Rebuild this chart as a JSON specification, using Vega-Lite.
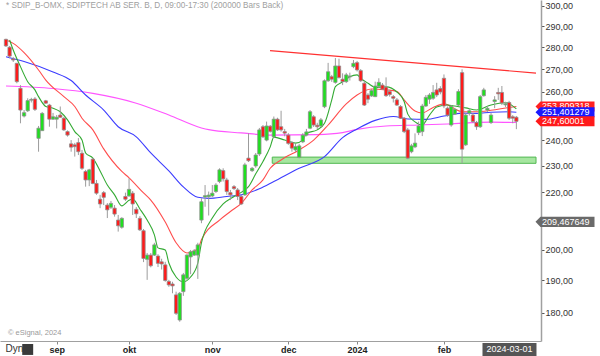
{
"$schema": "https://vega.github.io/schema/vega-lite/v6.json",
"width": 541, "height": 341,
"autosize": {"type": "none"},
"padding": {"left": 0, "top": 0, "right": 59, "bottom": 15},
"background": "white",
"config": {"view": {"stroke": null}, "font": "Liberation Sans"},
"datasets": {
"candles": [
{"i":0,"o":283.8,"h":284.1,"l":280.2,"c":280.7},{"i":1,"o":280.1,"h":280.7,"l":275.0,"c":276.0},{"i":2,"o":274.7,"h":275.6,"l":273.3,"c":274.2},{"i":3,"o":272.7,"h":272.9,"l":263.8,"c":264.5},{"i":4,"o":261.6,"h":263.0,"l":246.8,"c":252.3},{"i":5,"o":249.8,"h":252.3,"l":249.2,"c":251.2},{"i":6,"o":252.0,"h":257.3,"l":251.5,"c":256.3},{"i":7,"o":256.5,"h":257.5,"l":255.5,"c":256.8},{"i":8,"o":257.0,"h":257.8,"l":251.9,"c":252.6},{"i":9,"o":240.7,"h":245.7,"l":235.4,"c":244.8},
{"i":10,"o":243.8,"h":251.5,"l":243.7,"c":250.9},{"i":11,"o":256.2,"h":256.6,"l":254.9,"c":255.2},{"i":12,"o":254.4,"h":254.9,"l":245.4,"c":248.5},{"i":13,"o":248.5,"h":251.1,"l":248.2,"c":249.5},{"i":14,"o":248.5,"h":250.2,"l":244.7,"c":249.3},{"i":15,"o":250.2,"h":253.8,"l":249.0,"c":249.3},{"i":16,"o":248.9,"h":249.5,"l":243.7,"c":244.1},{"i":17,"o":243.4,"h":243.9,"l":241.4,"c":242.0},{"i":18,"o":238.5,"h":240.0,"l":235.4,"c":237.2},{"i":19,"o":238.1,"h":238.9,"l":233.5,"c":237.4},
{"i":20,"o":239.0,"h":240.8,"l":234.1,"c":235.4},{"i":21,"o":234.8,"h":236.1,"l":228.4,"c":229.0},{"i":22,"o":227.8,"h":228.4,"l":222.1,"c":224.6},{"i":23,"o":224.6,"h":228.8,"l":222.3,"c":228.4},{"i":24,"o":232.5,"h":233.0,"l":223.0,"c":223.3},{"i":25,"o":223.3,"h":224.6,"l":219.1,"c":219.7},{"i":26,"o":217.5,"h":219.1,"l":214.3,"c":215.8},{"i":27,"o":219.9,"h":220.5,"l":215.4,"c":218.2},{"i":28,"o":215.4,"h":216.1,"l":210.8,"c":213.7},{"i":29,"o":214.6,"h":216.9,"l":214.0,"c":216.0},
{"i":30,"o":214.3,"h":215.4,"l":211.3,"c":212.2},{"i":31,"o":210.1,"h":211.9,"l":206.1,"c":208.1},{"i":32,"o":207.6,"h":211.1,"l":207.1,"c":210.7},{"i":33,"o":218.5,"h":219.9,"l":216.9,"c":217.5},{"i":34,"o":218.7,"h":225.2,"l":218.4,"c":221.1},{"i":35,"o":219.7,"h":220.5,"l":211.9,"c":215.8},{"i":36,"o":213.9,"h":214.7,"l":210.8,"c":212.3},{"i":37,"o":210.7,"h":211.5,"l":206.3,"c":206.7},{"i":38,"o":206.4,"h":207.0,"l":195.9,"c":197.1},{"i":39,"o":196.8,"h":198.9,"l":190.2,"c":198.2},
{"i":40,"o":198.2,"h":198.9,"l":194.2,"c":194.7},{"i":41,"o":198.2,"h":202.3,"l":197.9,"c":201.6},{"i":42,"o":197.9,"h":198.5,"l":194.3,"c":195.5},{"i":43,"o":196.0,"h":197.0,"l":193.5,"c":195.3},{"i":44,"o":195.0,"h":196.0,"l":189.6,"c":190.0},{"i":45,"o":189.7,"h":190.2,"l":188.0,"c":188.6},{"i":46,"o":188.9,"h":189.6,"l":186.0,"c":188.3},{"i":47,"o":185.5,"h":186.5,"l":179.4,"c":179.9},{"i":48,"o":177.9,"h":186.4,"l":177.4,"c":186.0},{"i":49,"o":186.5,"h":192.4,"l":185.2,"c":191.8},
{"i":50,"o":190.7,"h":198.5,"l":190.2,"c":198.2},{"i":51,"o":197.6,"h":199.9,"l":192.0,"c":199.3},{"i":52,"o":198.2,"h":200.2,"l":197.9,"c":199.6},{"i":53,"o":198.2,"h":202.3,"l":190.5,"c":201.6},{"i":54,"o":210.1,"h":217.9,"l":209.0,"c":216.6},{"i":55,"o":218.3,"h":222.7,"l":214.8,"c":218.8},{"i":56,"o":218.4,"h":220.3,"l":211.7,"c":219.0},{"i":57,"o":218.7,"h":222.7,"l":218.3,"c":219.7},{"i":58,"o":220.3,"h":223.4,"l":219.8,"c":222.7},{"i":59,"o":224.0,"h":229.0,"l":223.4,"c":228.4},
{"i":60,"o":228.1,"h":229.0,"l":224.0,"c":225.0},{"i":61,"o":224.6,"h":225.4,"l":219.1,"c":220.3},{"i":62,"o":219.9,"h":220.9,"l":217.2,"c":219.1},{"i":63,"o":222.1,"h":222.7,"l":220.9,"c":221.4},{"i":64,"o":220.9,"h":221.6,"l":217.2,"c":218.5},{"i":65,"o":218.5,"h":219.1,"l":215.4,"c":215.8},{"i":66,"o":219.1,"h":231.1,"l":218.7,"c":230.3},{"i":67,"o":232.9,"h":242.7,"l":231.4,"c":231.9},{"i":68,"o":228.1,"h":229.5,"l":227.6,"c":229.0},{"i":69,"o":229.9,"h":234.9,"l":229.2,"c":234.1},
{"i":70,"o":234.5,"h":244.9,"l":233.7,"c":244.1},{"i":71,"o":245.4,"h":246.1,"l":240.8,"c":241.3},{"i":72,"o":240.0,"h":247.5,"l":239.5,"c":245.7},{"i":73,"o":245.6,"h":246.1,"l":243.0,"c":243.5},{"i":74,"o":241.3,"h":249.6,"l":240.8,"c":248.5},{"i":75,"o":248.5,"h":249.1,"l":243.7,"c":244.1},{"i":76,"o":245.4,"h":252.0,"l":243.4,"c":244.1},{"i":77,"o":243.4,"h":244.5,"l":241.5,"c":242.8},{"i":78,"o":242.0,"h":242.8,"l":238.1,"c":238.7},{"i":79,"o":239.0,"h":239.6,"l":235.4,"c":236.8},
{"i":80,"o":236.1,"h":238.5,"l":235.3,"c":237.4},{"i":81,"o":233.2,"h":238.5,"l":232.8,"c":237.7},{"i":82,"o":239.3,"h":242.8,"l":238.8,"c":242.0},{"i":83,"o":242.0,"h":244.5,"l":241.5,"c":243.3},{"i":84,"o":244.8,"h":252.3,"l":244.4,"c":251.6},{"i":85,"o":249.5,"h":250.2,"l":245.3,"c":246.1},{"i":86,"o":246.0,"h":247.0,"l":244.5,"c":245.4},{"i":87,"o":245.7,"h":249.0,"l":245.3,"c":248.2},{"i":88,"o":253.7,"h":265.5,"l":253.1,"c":264.9},{"i":89,"o":264.9,"h":272.9,"l":264.4,"c":268.9},
{"i":90,"o":266.7,"h":267.5,"l":264.4,"c":265.6},{"i":91,"o":264.2,"h":275.1,"l":263.6,"c":271.5},{"i":92,"o":271.5,"h":274.8,"l":265.9,"c":266.3},{"i":93,"o":265.6,"h":268.2,"l":263.0,"c":264.5},{"i":94,"o":264.5,"h":268.4,"l":263.9,"c":267.5},{"i":95,"o":266.6,"h":268.5,"l":265.0,"c":267.0},{"i":96,"o":271.2,"h":274.2,"l":270.5,"c":272.7},{"i":97,"o":273.0,"h":273.8,"l":269.0,"c":269.7},{"i":98,"o":269.4,"h":270.1,"l":264.4,"c":264.9},{"i":99,"o":263.8,"h":264.9,"l":254.0,"c":254.4},
{"i":100,"o":258.7,"h":259.5,"l":255.2,"c":256.9},{"i":101,"o":258.3,"h":261.3,"l":257.9,"c":260.6},{"i":102,"o":258.0,"h":264.5,"l":257.8,"c":262.6},{"i":103,"o":262.5,"h":266.0,"l":261.9,"c":264.2},{"i":104,"o":263.0,"h":263.9,"l":260.9,"c":261.2},{"i":105,"o":262.1,"h":266.4,"l":257.9,"c":258.4},{"i":106,"o":260.2,"h":261.0,"l":258.0,"c":258.9},{"i":107,"o":258.0,"h":258.7,"l":255.5,"c":257.3},{"i":108,"o":256.6,"h":257.4,"l":254.0,"c":254.4},{"i":109,"o":253.8,"h":254.4,"l":248.6,"c":248.9},
{"i":110,"o":248.9,"h":249.4,"l":242.8,"c":243.4},{"i":111,"o":244.1,"h":244.9,"l":232.5,"c":232.9},{"i":112,"o":235.4,"h":238.5,"l":234.8,"c":237.7},{"i":113,"o":237.3,"h":242.7,"l":236.8,"c":238.8},{"i":114,"o":243.0,"h":247.5,"l":242.0,"c":245.7},{"i":115,"o":243.4,"h":254.9,"l":241.6,"c":254.0},{"i":116,"o":254.0,"h":258.7,"l":253.6,"c":257.7},{"i":117,"o":256.9,"h":259.5,"l":254.9,"c":258.7},{"i":118,"o":257.3,"h":263.0,"l":256.6,"c":259.8},{"i":119,"o":260.9,"h":264.0,"l":257.8,"c":258.7},
{"i":120,"o":261.5,"h":262.5,"l":259.0,"c":260.0},{"i":121,"o":266.0,"h":267.7,"l":253.1,"c":254.0},{"i":122,"o":253.1,"h":253.8,"l":249.5,"c":250.2},{"i":123,"o":246.1,"h":254.4,"l":245.4,"c":253.8},{"i":124,"o":250.6,"h":253.2,"l":250.2,"c":252.6},{"i":125,"o":254.4,"h":261.2,"l":254.0,"c":260.2},{"i":126,"o":268.5,"h":270.0,"l":230.9,"c":236.4},{"i":127,"o":238.1,"h":251.1,"l":237.7,"c":250.2},{"i":128,"o":251.0,"h":253.0,"l":250.0,"c":252.0},{"i":129,"o":250.2,"h":251.1,"l":246.9,"c":247.5},
{"i":130,"o":247.1,"h":247.8,"l":244.1,"c":245.4},{"i":131,"o":245.4,"h":258.7,"l":244.9,"c":258.0},{"i":132,"o":258.4,"h":261.8,"l":258.0,"c":260.9},{"i":133,"o":252.3,"h":254.0,"l":251.5,"c":253.0},{"i":134,"o":247.1,"h":251.1,"l":246.5,"c":250.2},{"i":135,"o":255.9,"h":258.2,"l":253.1,"c":256.6},{"i":136,"o":259.8,"h":261.8,"l":256.6,"c":259.2},{"i":137,"o":259.8,"h":262.6,"l":254.4,"c":255.3},{"i":138,"o":254.5,"h":255.8,"l":253.6,"c":254.9},{"i":139,"o":255.5,"h":256.2,"l":248.2,"c":248.9},
{"i":140,"o":249.5,"h":250.2,"l":246.8,"c":248.9},{"i":141,"o":249.3,"h":249.8,"l":244.4,"c":247.6}
],
"ma": [
{"s":"m200","i":0,"v":262.6},{"s":"m200","i":13,"v":261.5},{"s":"m200","i":24,"v":259.4},{"s":"m200","i":36,"v":255.2},{"s":"m200","i":45,"v":250.2},{"s":"m200","i":54,"v":244.9},{"s":"m200","i":56,"v":244.2},{"s":"m200","i":65,"v":242.9},{"s":"m200","i":73,"v":242.0},{"s":"m200","i":86,"v":242.2},{"s":"m200","i":93,"v":243.0},{"s":"m200","i":97,"v":244.3},{"s":"m200","i":105,"v":245.7},{"s":"m200","i":114,"v":246.1},{"s":"m200","i":122,"v":246.5},{"s":"m200","i":134,"v":247.3},{"s":"m200","i":141,"v":247.1},
{"s":"m50","i":0,"v":275.7},{"s":"m50","i":5,"v":273.5},{"s":"m50","i":13,"v":268.8},{"s":"m50","i":18,"v":265.0},{"s":"m50","i":22,"v":258.7},{"s":"m50","i":27,"v":252.3},{"s":"m50","i":31,"v":245.4},{"s":"m50","i":36,"v":241.3},{"s":"m50","i":40,"v":234.9},{"s":"m50","i":45,"v":228.0},{"s":"m50","i":49,"v":222.0},{"s":"m50","i":53,"v":218.2},{"s":"m50","i":56,"v":217.8},{"s":"m50","i":61,"v":218.5},{"s":"m50","i":65,"v":219.1},{"s":"m50","i":70,"v":221.3},{"s":"m50","i":74,"v":224.0},{"s":"m50","i":81,"v":229.0},{"s":"m50","i":88,"v":233.5},{"s":"m50","i":93,"v":241.0},{"s":"m50","i":97,"v":244.5},{"s":"m50","i":102,"v":248.0},{"s":"m50","i":107,"v":249.6},{"s":"m50","i":111,"v":248.6},{"s":"m50","i":116,"v":248.4},{"s":"m50","i":121,"v":249.8},{"s":"m50","i":126,"v":251.0},{"s":"m50","i":130,"v":250.9},{"s":"m50","i":134,"v":251.4},{"s":"m50","i":139,"v":251.6},{"s":"m50","i":141,"v":251.4},
{"s":"m20","i":0,"v":283.5},{"s":"m20","i":2,"v":281.9},{"s":"m20","i":5,"v":277.6},{"s":"m20","i":9,"v":269.7},{"s":"m20","i":11,"v":265.2},{"s":"m20","i":16,"v":258.0},{"s":"m20","i":19,"v":253.8},{"s":"m20","i":21,"v":248.9},{"s":"m20","i":24,"v":244.1},{"s":"m20","i":27,"v":236.5},{"s":"m20","i":32,"v":227.8},{"s":"m20","i":34,"v":225.4},{"s":"m20","i":38,"v":219.8},{"s":"m20","i":40,"v":217.2},{"s":"m20","i":44,"v":209.4},{"s":"m20","i":47,"v":202.3},{"s":"m20","i":50,"v":198.9},{"s":"m20","i":53,"v":200.3},{"s":"m20","i":54,"v":203.3},{"s":"m20","i":59,"v":210.1},{"s":"m20","i":62,"v":213.1},{"s":"m20","i":65,"v":216.0},{"s":"m20","i":68,"v":220.9},{"s":"m20","i":71,"v":224.6},{"s":"m20","i":73,"v":229.0},{"s":"m20","i":76,"v":232.2},{"s":"m20","i":81,"v":236.1},{"s":"m20","i":85,"v":240.0},{"s":"m20","i":89,"v":246.1},{"s":"m20","i":94,"v":254.9},{"s":"m20","i":97,"v":258.7},{"s":"m20","i":101,"v":261.3},{"s":"m20","i":105,"v":260.9},{"s":"m20","i":108,"v":260.2},{"s":"m20","i":110,"v":256.6},{"s":"m20","i":113,"v":251.9},{"s":"m20","i":115,"v":251.1},{"s":"m20","i":118,"v":253.4},{"s":"m20","i":121,"v":254.9},{"s":"m20","i":126,"v":251.6},{"s":"m20","i":130,"v":251.6},{"s":"m20","i":134,"v":252.2},{"s":"m20","i":139,"v":253.4},{"s":"m20","i":141,"v":253.8},
{"s":"m10","i":1,"v":283.5},{"s":"m10","i":2,"v":278.8},{"s":"m10","i":4,"v":271.2},{"s":"m10","i":6,"v":264.5},{"s":"m10","i":8,"v":260.9},{"s":"m10","i":9,"v":258.0},{"s":"m10","i":11,"v":253.8},{"s":"m10","i":13,"v":253.1},{"s":"m10","i":15,"v":251.6},{"s":"m10","i":17,"v":248.2},{"s":"m10","i":19,"v":243.4},{"s":"m10","i":21,"v":240.0},{"s":"m10","i":22,"v":234.9},{"s":"m10","i":24,"v":232.9},{"s":"m10","i":26,"v":228.0},{"s":"m10","i":28,"v":222.7},{"s":"m10","i":30,"v":219.1},{"s":"m10","i":32,"v":215.1},{"s":"m10","i":34,"v":217.1},{"s":"m10","i":35,"v":217.6},{"s":"m10","i":37,"v":214.0},{"s":"m10","i":39,"v":210.1},{"s":"m10","i":41,"v":205.0},{"s":"m10","i":42,"v":200.6},{"s":"m10","i":44,"v":199.9},{"s":"m10","i":45,"v":195.6},{"s":"m10","i":47,"v":191.1},{"s":"m10","i":49,"v":189.6},{"s":"m10","i":51,"v":191.1},{"s":"m10","i":53,"v":195.6},{"s":"m10","i":54,"v":202.3},{"s":"m10","i":57,"v":210.8},{"s":"m10","i":60,"v":215.8},{"s":"m10","i":63,"v":218.5},{"s":"m10","i":65,"v":220.0},{"s":"m10","i":67,"v":222.1},{"s":"m10","i":69,"v":226.9},{"s":"m10","i":71,"v":231.6},{"s":"m10","i":73,"v":237.3},{"s":"m10","i":74,"v":241.2},{"s":"m10","i":77,"v":240.0},{"s":"m10","i":80,"v":238.8},{"s":"m10","i":82,"v":240.0},{"s":"m10","i":83,"v":242.7},{"s":"m10","i":86,"v":244.1},{"s":"m10","i":88,"v":246.8},{"s":"m10","i":90,"v":256.6},{"s":"m10","i":91,"v":262.3},{"s":"m10","i":93,"v":264.4},{"s":"m10","i":95,"v":266.7},{"s":"m10","i":97,"v":267.5},{"s":"m10","i":98,"v":266.0},{"s":"m10","i":100,"v":263.8},{"s":"m10","i":102,"v":262.0},{"s":"m10","i":105,"v":262.2},{"s":"m10","i":108,"v":260.0},{"s":"m10","i":110,"v":255.9},{"s":"m10","i":111,"v":250.6},{"s":"m10","i":113,"v":247.4},{"s":"m10","i":115,"v":246.1},{"s":"m10","i":117,"v":250.2},{"s":"m10","i":119,"v":253.6},{"s":"m10","i":122,"v":254.4},{"s":"m10","i":124,"v":254.0},{"s":"m10","i":127,"v":253.2},{"s":"m10","i":130,"v":252.3},{"s":"m10","i":134,"v":254.4},{"s":"m10","i":138,"v":255.4},{"s":"m10","i":141,"v":252.8}
],
"trend": [{"i":72.94,"v":278.5},{"i":146.43,"v":268.3}],
"band": [{"a":73.56,"b":146.43,"top":233.3,"bot":230.9}],
"labels": [
{"k":"ma20","v":253.809318,"t":"253,809318"},
{"k":"ma50","v":251.401279,"t":"251,401279"},
{"k":"close","v":247.60001,"t":"247,60001"},
{"k":"other","v":209.467649,"t":"209,467649"}
]
},
"layer": [
{"data": {"name": "band"},
 "mark": {"type": "rect", "fill": "#a6e6a0", "stroke": "#52b852", "strokeWidth": 1},
 "encoding": {
  "x": {"field": "a", "type": "quantitative", "scale": {"domain": [-0.2712, 146.425], "nice": false, "zero": false},
   "axis": {"values": [14,34,57,78,97,121], "labelExpr": "datum.value == 14 ? 'sep' : datum.value == 34 ? 'okt' : datum.value == 57 ? 'nov' : datum.value == 78 ? 'dec' : datum.value == 97 ? '2024' : 'feb'", "title": null, "grid": false, "domainColor": "#a0a0a0", "domainWidth": 1, "tickColor": "#888888", "tickSize": 3, "labelFontSize": 9, "labelFontWeight": "bold", "labelColor": "#222222", "labelPadding": 1, "labelFlush": false, "labelOverlap": false}},
  "x2": {"field": "b"},
  "y": {"field": "top", "type": "quantitative", "scale": {"type": "log", "domain": [171.8, 303.0], "nice": false},
   "axis": {"orient": "right", "values": [180,190,200,220,230,240,260,270,280,290,300], "labelExpr": "replace(format(datum.value, '.2f'), '.', ',')", "title": null, "grid": false, "domainColor": "#a0a0a0", "domainWidth": 1.5, "tickColor": "#555555", "tickSize": 3, "labelFontSize": 9, "labelColor": "#333333", "labelPadding": 1, "labelFlush": false, "labelOverlap": false, "labelBaseline": "middle"}},
  "y2": {"field": "bot"}}},
{"data": {"name": "ma"},
 "mark": {"type": "line", "strokeWidth": 1.1, "interpolate": "monotone"},
 "encoding": {
  "x": {"field": "i", "type": "quantitative"},
  "y": {"field": "v", "type": "quantitative"},
  "stroke": {"field": "s", "type": "nominal", "legend": null, "scale": {"domain": ["m200","m50","m20","m10"], "range": ["#ff55ff","#3c3cff","#ff4d4d","#33aa33"]}}}},
{"data": {"name": "trend"},
 "mark": {"type": "line", "color": "#ff3030", "strokeWidth": 1.1},
 "encoding": {
  "x": {"field": "i", "type": "quantitative"},
  "y": {"field": "v", "type": "quantitative"}}},
{"data": {"name": "candles"},
 "mark": {"type": "rule", "color": "#9c9c9c", "strokeWidth": 1},
 "encoding": {
  "x": {"field": "i", "type": "quantitative"},
  "y": {"field": "l", "type": "quantitative"},
  "y2": {"field": "h"}}},
{"data": {"name": "candles"},
 "mark": {"type": "bar", "size": 3.3, "stroke": "#8f8f8f", "strokeWidth": 0.8},
 "encoding": {
  "x": {"field": "i", "type": "quantitative"},
  "y": {"field": "o", "type": "quantitative"},
  "y2": {"field": "c"},
  "fill": {"condition": {"test": "datum.c >= datum.o", "value": "#1fe01f"}, "value": "#ff1a1a"}}},
{"data": {"name": "labels"},
 "transform": [{"filter": "datum.k == 'ma20'"}],
 "layer": [
  {"mark": {"type": "point", "shape": "M-1,0L-0.83,-0.17L1,-0.17L1,0.17L-0.83,0.17Z", "size": 3481, "filled": true, "opacity": 1, "strokeWidth": 0},
   "encoding": {
    "x": {"datum": 154.43, "type": "quantitative"},
    "y": {"field": "v", "type": "quantitative"},
    "fill": {"field": "k", "type": "nominal", "legend": null, "scale": {"domain": ["ma20","ma50","close","other"], "range": ["#ff2020","#1a1aff","#ff1a1a","#6a6a6a"]}}}},
  {"mark": {"type": "text", "align": "left", "baseline": "middle", "fontSize": 9, "color": "white"},
   "encoding": {
    "x": {"datum": 148.05, "type": "quantitative"},
    "y": {"field": "v", "type": "quantitative"},
    "text": {"field": "t"}}}
 ]},
{"data": {"name": "labels"},
 "transform": [{"filter": "datum.k != 'ma20'"}],
 "layer": [
  {"mark": {"type": "point", "shape": "M-1,0L-0.83,-0.17L1,-0.17L1,0.17L-0.83,0.17Z", "size": 3481, "filled": true, "opacity": 1, "strokeWidth": 0},
   "encoding": {
    "x": {"datum": 154.43, "type": "quantitative"},
    "y": {"field": "v", "type": "quantitative"},
    "fill": {"field": "k", "type": "nominal", "legend": null, "scale": {"domain": ["ma20","ma50","close","other"], "range": ["#ff2020","#1a1aff","#ff1a1a","#6a6a6a"]}}}},
  {"mark": {"type": "text", "align": "left", "baseline": "middle", "fontSize": 9, "color": "white"},
   "encoding": {
    "x": {"datum": 148.05, "type": "quantitative"},
    "y": {"field": "v", "type": "quantitative"},
    "text": {"field": "t"}}}
 ]},
{"data": {"values": [{"t": "* SDIP_B-OMX, SDIPTECH AB SER. B, D, 09:00-17:30 (200000 Bars Back)"}]},
 "mark": {"type": "text", "align": "left", "baseline": "middle", "fontSize": 8.2, "color": "#a0a0a0"},
 "encoding": {"x": {"datum": 0.0, "type": "quantitative"}, "y": {"datum": 299.75, "type": "quantitative"}, "text": {"field": "t"}}},
{"data": {"values": [{"t": "© eSignal, 2024"}]},
 "mark": {"type": "text", "align": "left", "baseline": "middle", "fontSize": 7.5, "color": "#9a9a9a"},
 "encoding": {"x": {"datum": 0.54, "type": "quantitative"}, "y": {"datum": 174.11, "type": "quantitative"}, "text": {"field": "t"}}},
{"data": {"values": [{"t": "Dyn"}]},
 "mark": {"type": "text", "align": "left", "baseline": "middle", "fontSize": 10, "color": "#333333"},
 "encoding": {"x": {"datum": -0.14, "type": "quantitative"}, "y": {"datum": 169.4, "type": "quantitative"}, "text": {"field": "t"}}},
{"data": {"values": [{"t": "icon"}]},
 "mark": {"type": "point", "shape": "square", "size": 120, "filled": true, "opacity": 1, "color": "#3a3a3a"},
 "encoding": {"x": {"datum": 6.0, "type": "quantitative"}, "y": {"datum": 169.4, "type": "quantitative"}}},
{"data": {"values": [{"t": "2024-03-01"}]},
 "mark": {"type": "point", "shape": "M-1,-0.24L1,-0.24L1,0.24L-1,0.24Z", "size": 2916, "filled": true, "opacity": 1, "color": "#555555"},
 "encoding": {"x": {"datum": 139.1, "type": "quantitative"}, "y": {"datum": 169.4, "type": "quantitative"}}},
{"data": {"values": [{"t": "2024-03-01"}]},
 "mark": {"type": "text", "align": "center", "baseline": "middle", "fontSize": 9, "color": "white"},
 "encoding": {"x": {"datum": 139.1, "type": "quantitative"}, "y": {"datum": 169.4, "type": "quantitative"}, "text": {"field": "t"}}}
]
}
